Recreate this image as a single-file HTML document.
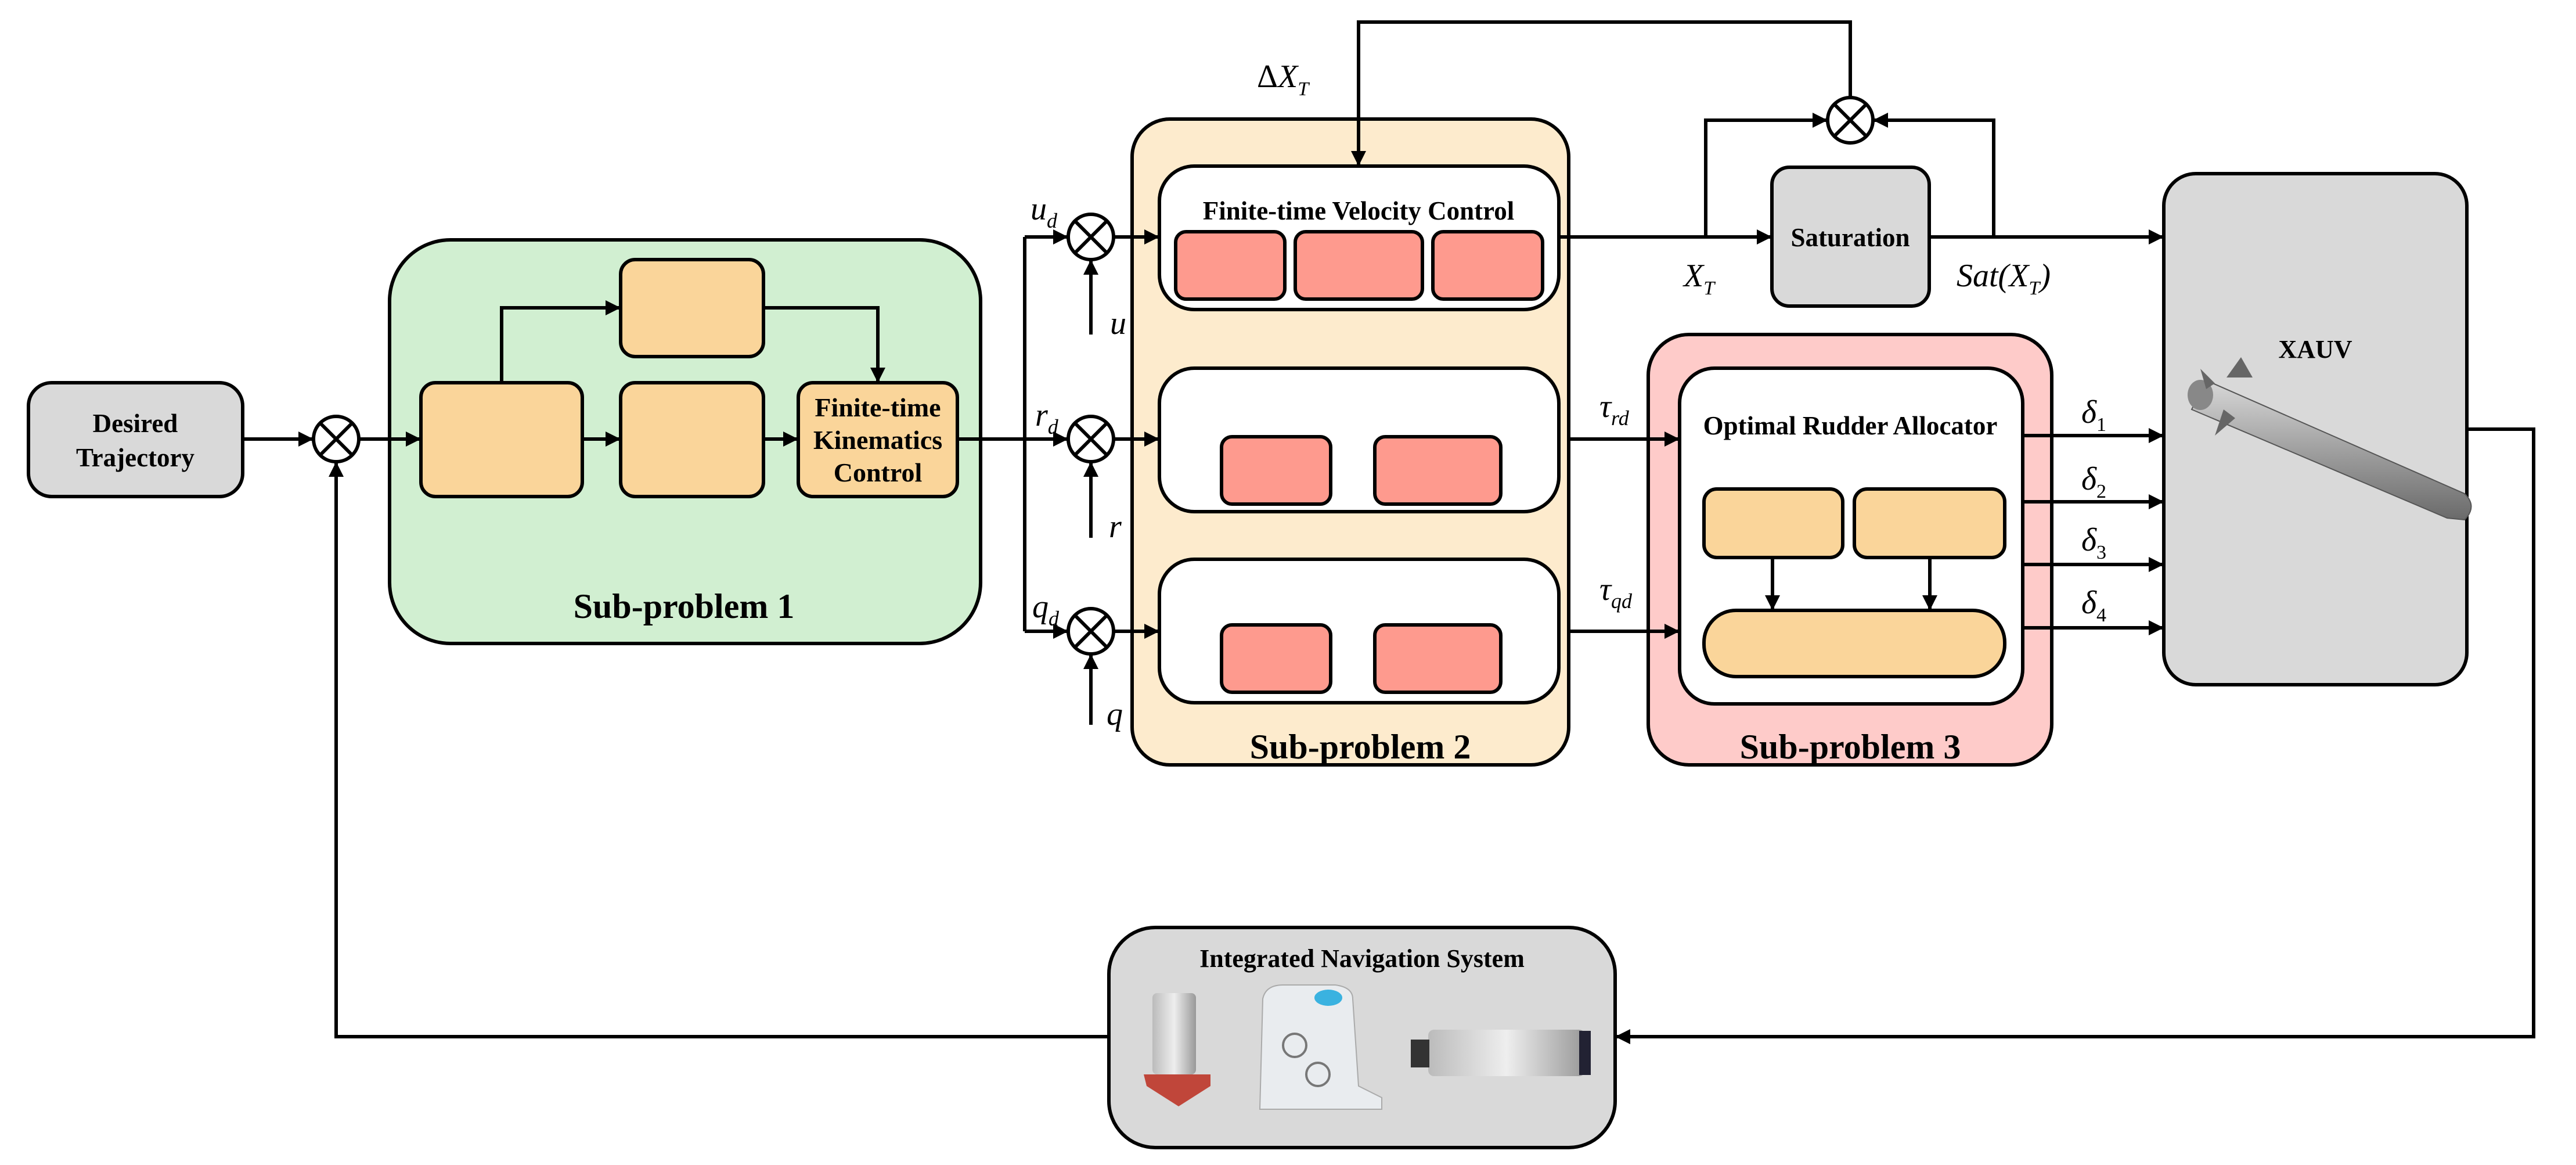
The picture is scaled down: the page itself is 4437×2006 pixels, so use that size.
<!DOCTYPE html>
<html><head><meta charset="utf-8"><style>
html,body{margin:0;padding:0;background:#fff;}
svg{display:block;}
svg text{font-family:"Liberation Serif","Times New Roman",serif;}
.b{font-weight:bold;}
.m{font-style:italic;}
</style></head><body>
<svg width="4437" height="2006" viewBox="0 0 4437 2006" xmlns="http://www.w3.org/2000/svg" font-family="Liberation Serif, serif">
<defs>
<marker id="ar" viewBox="0 0 10 10" refX="10" refY="5" markerWidth="26" markerHeight="26" markerUnits="userSpaceOnUse" orient="auto"><path d="M0,0 L10,5 L0,10 z" fill="#000"/></marker>
<linearGradient id="tor" x1="0" y1="0" x2="0" y2="1"><stop offset="0" stop-color="#d8d8d8"/><stop offset="0.5" stop-color="#a0a0a0"/><stop offset="1" stop-color="#6a6a6a"/></linearGradient>
<linearGradient id="met" x1="0" y1="0" x2="1" y2="0"><stop offset="0" stop-color="#bbb"/><stop offset="0.5" stop-color="#eee"/><stop offset="1" stop-color="#999"/></linearGradient>
</defs>
<g stroke="#000" stroke-width="6" fill="none">
<rect x="49" y="659" width="369" height="196" rx="40" fill="#d9d9d9"/>
<rect x="671" y="413" width="1018" height="695" rx="105" fill="#d1efd1"/>
<rect x="725" y="659" width="278" height="196" rx="25" fill="#fad59a"/>
<rect x="1069" y="447" width="246" height="167" rx="25" fill="#fad59a"/>
<rect x="1069" y="659" width="246" height="196" rx="25" fill="#fad59a"/>
<rect x="1375" y="659" width="274" height="196" rx="25" fill="#fad59a"/>
<rect x="1950" y="205" width="752" height="1112" rx="65" fill="#fdebcd"/>
<rect x="1997" y="286" width="688" height="247" rx="60" fill="#fff"/>
<rect x="1997" y="634" width="688" height="247" rx="60" fill="#fff"/>
<rect x="1997" y="963" width="688" height="247" rx="60" fill="#fff"/>
<rect x="2025" y="399" width="188" height="116" rx="18" fill="#fe9a8e"/>
<rect x="2231" y="399" width="219" height="116" rx="18" fill="#fe9a8e"/>
<rect x="2468" y="399" width="189" height="116" rx="18" fill="#fe9a8e"/>
<rect x="2104" y="752" width="188" height="116" rx="18" fill="#fe9a8e"/>
<rect x="2368" y="752" width="217" height="116" rx="18" fill="#fe9a8e"/>
<rect x="2104" y="1076" width="188" height="116" rx="18" fill="#fe9a8e"/>
<rect x="2368" y="1076" width="217" height="116" rx="18" fill="#fe9a8e"/>
<rect x="3052" y="288" width="271" height="239" rx="30" fill="#d9d9d9"/>
<rect x="2839" y="576" width="695" height="741" rx="70" fill="#fecbc9"/>
<rect x="2893" y="634" width="591" height="578" rx="60" fill="#fff"/>
<rect x="2935" y="842" width="239" height="118" rx="22" fill="#fad59a"/>
<rect x="3194" y="842" width="259" height="118" rx="22" fill="#fad59a"/>
<rect x="2935" y="1051" width="518" height="114" rx="55" fill="#fad59a"/>
<rect x="3727" y="299" width="522" height="880" rx="55" fill="#d9d9d9"/>
<rect x="1910" y="1597" width="872" height="379" rx="80" fill="#d9d9d9"/>
<circle cx="579" cy="756" r="39" fill="#fff"/>
<circle cx="1879" cy="408" r="39" fill="#fff"/>
<circle cx="1879" cy="756" r="39" fill="#fff"/>
<circle cx="1879" cy="1087" r="39" fill="#fff"/>
<circle cx="3187" cy="207" r="39" fill="#fff"/>
<path d="M551,728 L607,784 M607,728 L551,784"/>
<path d="M1851,380 L1907,436 M1907,380 L1851,436"/>
<path d="M1851,728 L1907,784 M1907,728 L1851,784"/>
<path d="M1851,1059 L1907,1115 M1907,1059 L1851,1115"/>
<path d="M3159,179 L3215,235 M3215,179 L3159,235"/>
</g>
<g stroke="#000" stroke-width="6" fill="none">
<path d="M418,756 H540" marker-end="url(#ar)"/>
<path d="M618,756 H725" marker-end="url(#ar)"/>
<path d="M1003,756 H1069" marker-end="url(#ar)"/>
<path d="M1315,756 H1375" marker-end="url(#ar)"/>
<path d="M864,659 V530 H1069" marker-end="url(#ar)"/>
<path d="M1315,530 H1512 V659" marker-end="url(#ar)"/>
<path d="M1649,756 H1840" marker-end="url(#ar)"/>
<path d="M1765,408 V1087"/>
<path d="M1765,408 H1840" marker-end="url(#ar)"/>
<path d="M1765,1087 H1840" marker-end="url(#ar)"/>
<path d="M1879,576 V447" marker-end="url(#ar)"/>
<path d="M1879,926 V795" marker-end="url(#ar)"/>
<path d="M1879,1248 V1126" marker-end="url(#ar)"/>
<path d="M1918,408 H1997" marker-end="url(#ar)"/>
<path d="M1918,756 H1997" marker-end="url(#ar)"/>
<path d="M1918,1087 H1997" marker-end="url(#ar)"/>
<path d="M3187,168 V38 H2340 V286" marker-end="url(#ar)"/>
<path d="M2685,408 H3052" marker-end="url(#ar)"/>
<path d="M2938,408 V207 H3148" marker-end="url(#ar)"/>
<path d="M3323,408 H3727" marker-end="url(#ar)"/>
<path d="M3434,408 V207 H3226" marker-end="url(#ar)"/>
<path d="M2702,756 H2893" marker-end="url(#ar)"/>
<path d="M2702,1087 H2893" marker-end="url(#ar)"/>
<path d="M3053,960 V1051" marker-end="url(#ar)"/>
<path d="M3324,960 V1051" marker-end="url(#ar)"/>
<path d="M3484,750 H3727" marker-end="url(#ar)"/>
<path d="M3484,864 H3727" marker-end="url(#ar)"/>
<path d="M3484,972 H3727" marker-end="url(#ar)"/>
<path d="M3484,1081 H3727" marker-end="url(#ar)"/>
<path d="M4249,739 H4364 V1785 H2782" marker-end="url(#ar)"/>
<path d="M1910,1785 H579 V795" marker-end="url(#ar)"/>
</g>
<g>
<path d="M3800,655 L4245,850 Q4268,872 4245,895 L4215,892 L3775,705 Z" fill="url(#tor)" stroke="#555" stroke-width="2"/>
<ellipse cx="3790" cy="680" rx="22" ry="26" fill="#888"/>
<path d="M3835,650 L3860,615 L3880,650 Z M3830,705 L3815,750 L3850,720 Z M3815,660 L3790,635 L3800,670 Z" fill="#666"/>
</g>
<g>
<rect x="1985" y="1710" width="75" height="140" rx="8" fill="url(#met)"/>
<path d="M1970,1850 H2085 V1870 L2030,1905 L1975,1870 Z" fill="#c0463a"/>
<path d="M2175,1720 Q2180,1696 2210,1696 H2300 Q2330,1700 2330,1720 L2340,1870 L2380,1890 V1910 H2170 Z" fill="#e9ecef" stroke="#aaa" stroke-width="2"/>
<ellipse cx="2288" cy="1718" rx="24" ry="14" fill="#3ab2e0"/>
<circle cx="2230" cy="1800" r="20" fill="none" stroke="#777" stroke-width="4"/>
<circle cx="2270" cy="1850" r="20" fill="none" stroke="#777" stroke-width="4"/>
<rect x="2460" y="1773" width="270" height="80" rx="10" fill="url(#met)"/>
<rect x="2430" y="1790" width="32" height="48" fill="#333"/>
<rect x="2720" y="1775" width="20" height="76" fill="#223"/>
</g>
<g fill="#000" text-anchor="middle" font-family="Liberation Serif, serif" font-weight="bold">
<text x="233" y="744" font-size="45">Desired</text>
<text x="233" y="803" font-size="45">Trajectory</text>
<text x="1512" y="717" font-size="46">Finite-time</text>
<text x="1512" y="773" font-size="46">Kinematics</text>
<text x="1512" y="829" font-size="46">Control</text>
<text x="1178" y="1064" font-size="60">Sub-problem 1</text>
<text x="2340" y="378" font-size="45">Finite-time Velocity Control</text>
<text x="2343" y="1306" font-size="60">Sub-problem 2</text>
<text x="3187" y="1306" font-size="60">Sub-problem 3</text>
<text x="3187" y="424" font-size="45">Saturation</text>
<text x="3187" y="748" font-size="45">Optimal Rudder Allocator</text>
<text x="3988" y="616" font-size="44">XAUV</text>
<text x="2346" y="1665" font-size="44">Integrated Navigation System</text>
</g>
<g fill="#000" font-size="56" font-family="Liberation Serif, serif" font-style="italic">
<text x="1775" y="378">u<tspan font-size="36" dy="14">d</tspan></text>
<text x="1912" y="575">u</text>
<text x="1783" y="733">r<tspan font-size="36" dy="14">d</tspan></text>
<text x="1910" y="925">r</text>
<text x="1778" y="1063">q<tspan font-size="36" dy="14">d</tspan></text>
<text x="1906" y="1248">q</text>
<text x="2165" y="150"><tspan font-style="normal">Δ</tspan>X<tspan font-size="34" dy="14">T</tspan></text>
<text x="2900" y="493">X<tspan font-size="34" dy="14">T</tspan></text>
<text x="3370" y="493">Sat(X<tspan font-size="34" dy="14">T</tspan><tspan dy="-14">)</tspan></text>
<text x="2755" y="718">τ<tspan font-size="36" dy="14">rd</tspan></text>
<text x="2755" y="1033">τ<tspan font-size="36" dy="14">qd</tspan></text>
<text x="3585" y="728">δ<tspan font-size="34" dy="14" font-style="normal">1</tspan></text>
<text x="3585" y="843">δ<tspan font-size="34" dy="14" font-style="normal">2</tspan></text>
<text x="3585" y="948">δ<tspan font-size="34" dy="14" font-style="normal">3</tspan></text>
<text x="3585" y="1056">δ<tspan font-size="34" dy="14" font-style="normal">4</tspan></text>
</g>
</svg>
</body></html>
